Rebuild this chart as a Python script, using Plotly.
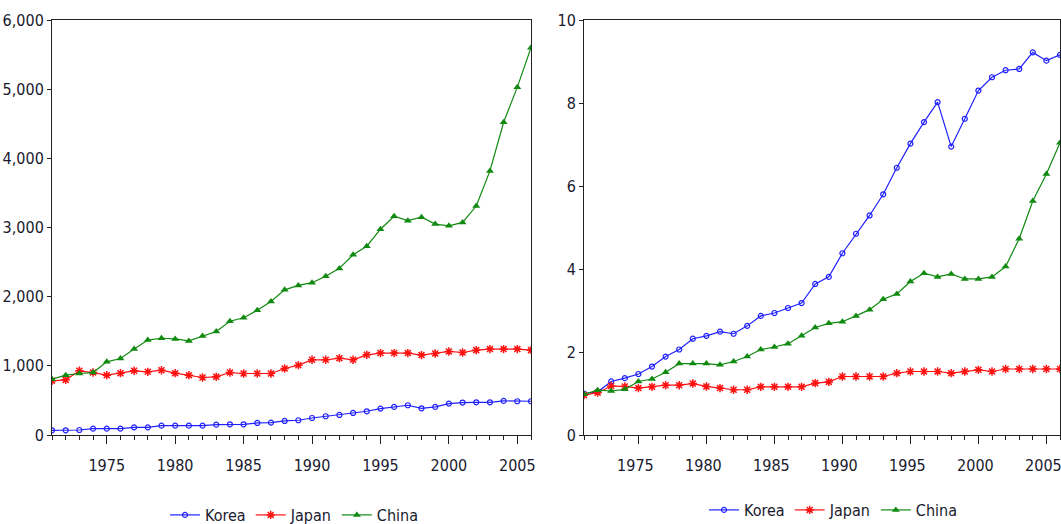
import plotly.graph_objects as go

years = list(range(1971, 2007))

# Left panel (levels)
korea_lvl = [68, 68, 72, 92, 92, 92, 111, 111, 135, 135, 135, 135, 150, 155, 155, 174, 179, 203,
             213, 246, 271, 290, 319, 343, 382, 406, 430, 386, 406, 454, 469, 473, 473, 493, 488, 488]
japan_lvl = [783, 797, 928, 903, 865, 894, 928, 913, 937, 894, 865, 831, 841, 903, 889, 889, 889, 961,
             1010, 1087, 1087, 1111, 1087, 1159, 1184, 1184, 1184, 1155, 1179, 1208, 1193, 1227, 1242, 1242, 1242, 1227]
china_lvl = [807, 865, 889, 903, 1058, 1106, 1242, 1372, 1399, 1389, 1360, 1433, 1497, 1645, 1695, 1803, 1931, 2099,
             2163, 2202, 2296, 2409, 2606, 2729, 2975, 3163, 3099, 3148, 3049, 3025, 3074, 3310, 3818, 4522, 5029, 5600]

# Right panel (index, 1971 = 1)
korea_idx = [1.00, 1.04, 1.29, 1.37, 1.47, 1.65, 1.89, 2.06, 2.32, 2.39, 2.49, 2.44, 2.63, 2.87, 2.94, 3.06, 3.18, 3.64,
             3.81, 4.38, 4.85, 5.29, 5.80, 6.44, 7.02, 7.54, 8.02, 6.95, 7.62, 8.30, 8.62, 8.79, 8.82, 9.22, 9.02, 9.16]
japan_idx = [0.96, 1.02, 1.18, 1.17, 1.13, 1.16, 1.20, 1.20, 1.24, 1.17, 1.13, 1.09, 1.09, 1.16, 1.16, 1.16, 1.16, 1.25,
             1.28, 1.41, 1.41, 1.41, 1.41, 1.49, 1.53, 1.53, 1.53, 1.49, 1.53, 1.57, 1.53, 1.59, 1.59, 1.59, 1.59, 1.59]
china_idx = [0.98, 1.08, 1.06, 1.10, 1.29, 1.35, 1.51, 1.72, 1.72, 1.72, 1.69, 1.77, 1.89, 2.06, 2.12, 2.20, 2.39, 2.59,
             2.69, 2.73, 2.87, 3.02, 3.27, 3.40, 3.70, 3.90, 3.81, 3.88, 3.76, 3.76, 3.81, 4.06, 4.73, 5.64, 6.29, 7.04]

names = ["Korea", "Japan", "China"]
colors = {"Korea": "#2020ff", "Japan": "#ff1010", "China": "#108a10"}
markers = {
    "Korea": dict(symbol="circle-open", size=5, line=dict(width=1.2, color="#2020ff")),
    "Japan": dict(symbol="asterisk-open", size=7, line=dict(width=1.5, color="#ff1010")),
    "China": dict(symbol="triangle-up", size=7, color="#108a10"),
}

FONT = "Liberation Sans Narrow, Arial Narrow, DejaVu Sans Condensed, sans-serif"
W, H = 1061, 524
T, B = 20, 89

fig = go.Figure()
left = {"Korea": korea_lvl, "Japan": japan_lvl, "China": china_lvl}
right = {"Korea": korea_idx, "Japan": japan_idx, "China": china_idx}
for n in names:
    fig.add_trace(go.Scatter(x=years, y=left[n], name=n, mode="lines+markers",
                             line=dict(color=colors[n], width=1.2), marker=markers[n],
                             xaxis="x", yaxis="y", legend="legend"))
for n in names:
    fig.add_trace(go.Scatter(x=years, y=right[n], name=n, mode="lines+markers",
                             line=dict(color=colors[n], width=1.2), marker=markers[n],
                             xaxis="x2", yaxis="y2", legend="legend2"))

tickfont = dict(family=FONT, size=16, color="#1a1a2e")
xcommon = dict(range=[1971, 2006], tick0=1975, dtick=5, ticks="outside", ticklen=8, tickwidth=1,
               tickcolor="#222", showline=True, linecolor="#222", linewidth=1, mirror=True,
               showgrid=False, zeroline=False, ticklabelstandoff=8, automargin=False,
               ticklabeloverflow="allow",
               minor=dict(dtick=1, tick0=1971, ticks="outside", ticklen=4, tickcolor="#222", showgrid=False),
               tickfont=tickfont)
ycommon = dict(ticks="outside", ticklen=4, tickcolor="#222", showline=True, linecolor="#222",
               linewidth=1, mirror=True, showgrid=False, zeroline=False, automargin=False,
               tickfont=tickfont)

ph = H - T - B
fig.update_layout(
    template="none",
    width=W, height=H, margin=dict(l=0, r=0, t=T, b=B, autoexpand=False),
    paper_bgcolor="white", plot_bgcolor="white",
    xaxis=dict(domain=[52 / W, 531 / W], anchor="y", **xcommon),
    yaxis=dict(domain=[0, 1], anchor="x", range=[0, 6000], dtick=1000, tickformat=",", **ycommon),
    xaxis2=dict(domain=[584 / W, 1060 / W], anchor="y2", ticklabelshift=-3, **xcommon),
    yaxis2=dict(domain=[0, 1], anchor="x2", range=[0, 10], dtick=2, **ycommon),
    legend=dict(orientation="h", x=294 / W, xanchor="center", y=(H - B - 515) / ph, yanchor="middle",
                font=dict(family=FONT, size=16, color="#1a1a2e"), itemwidth=30, bgcolor="rgba(0,0,0,0)"),
    legend2=dict(orientation="h", x=833 / W, xanchor="center", y=(H - B - 510) / ph, yanchor="middle",
                 font=dict(family=FONT, size=16, color="#1a1a2e"), itemwidth=30, bgcolor="rgba(0,0,0,0)"),
    showlegend=True,
)

fig.write_html("out.html", config={"displayModeBar": False},
               post_script="document.body.style.margin='0';document.body.style.overflow='hidden';")
